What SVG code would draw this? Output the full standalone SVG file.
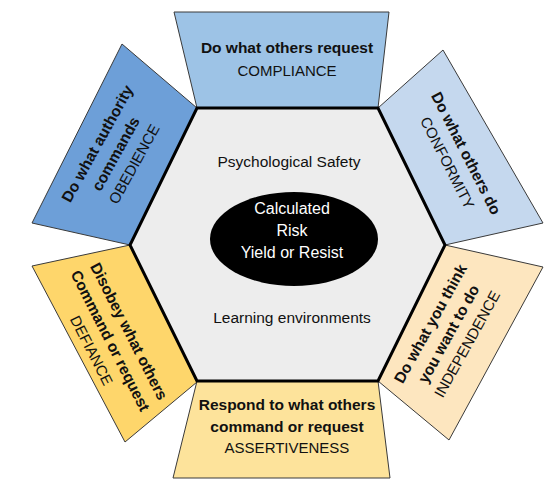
<svg xmlns="http://www.w3.org/2000/svg" width="549" height="486" viewBox="0 0 549 486">
<style>
.panel{stroke:#3a3a3a;stroke-width:1}
text{font-family:"Liberation Sans",Arial,sans-serif;font-size:15px;fill:#111;text-anchor:middle}
.b{font-weight:bold;font-size:15.5px}
.c{font-size:15.5px}
.w{fill:#fff;font-size:16px}
</style>
<rect width="549" height="486" fill="#fff"/>
<g id="compliance">
<polygon class="panel" points="174,12 389,12 378,108 197,108" fill="#9dc3e6"/>
<text class="b" x="287" y="53">Do what others request</text>
<text x="287" y="76">COMPLIANCE</text>
</g>
<g id="obedience">
<polygon class="panel" points="122,44 197,108 130,245 32,223" fill="#6d9fd8"/>
<g transform="translate(116,154) rotate(-61)">
<text class="b" y="-16">Do what authority</text>
<text class="b" y="5">commands</text>
<text y="26">OBEDIENCE</text>
</g>
</g>
<g id="conformity">
<polygon class="panel" points="443,50 543,223 445,245 378,108" fill="#c5d8ee"/>
<g transform="translate(457,158) rotate(63)">
<text class="b" y="-5">Do what others do</text>
<text y="16">CONFORMITY</text>
</g>
</g>
<g id="defiance">
<polygon class="panel" points="32,266 130,245 197,382 125,442" fill="#fed66b"/>
<g transform="translate(110,341) rotate(63)">
<text class="b" y="-16">Disobey what others</text>
<text class="b" y="5">Command or request</text>
<text y="26">DEFIANCE</text>
</g>
</g>
<g id="independence">
<polygon class="panel" points="445,245 543,267 449,440 378,381" fill="#fde6bf"/>
<g transform="translate(449,334) rotate(-61)">
<text class="b" y="-16">Do what you think</text>
<text class="b" y="5">you want to do</text>
<text y="26">INDEPENDENCE</text>
</g>
</g>
<g id="assertiveness">
<polygon class="panel" points="197,381 378,381 390,478 173,478" fill="#fde39b"/>
<text class="b" x="287" y="410">Respond to what others</text>
<text class="b" x="287" y="432">command or request</text>
<text x="287" y="453">ASSERTIVENESS</text>
</g>
<g id="center">
<polygon points="197,108 378,108 445,245 378,381 197,381 130,245" fill="#ededed" stroke="#000" stroke-width="3" stroke-linejoin="miter"/>
<text class="c" x="289" y="167">Psychological Safety</text>
<ellipse cx="294" cy="239" rx="84" ry="47" fill="#000"/>
<text class="w" x="292" y="214">Calculated</text>
<text class="w" x="292" y="236">Risk</text>
<text class="w" x="292" y="258">Yield or Resist</text>
<text class="c" x="292" y="323">Learning environments</text>
</g>
</svg>
